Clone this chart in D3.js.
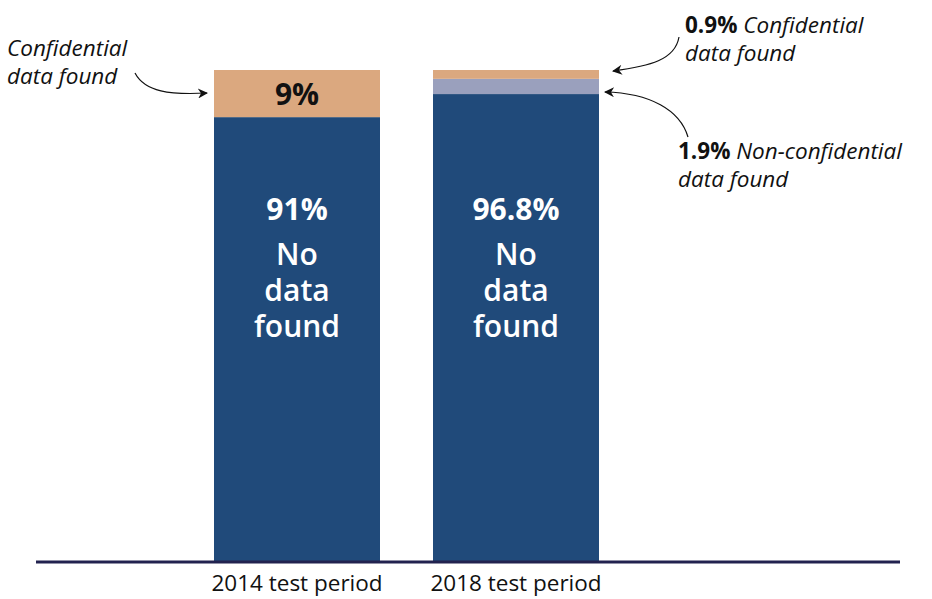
<!doctype html>
<html>
<head>
<meta charset="utf-8">
<style>
  body { margin: 0; background: #fff; }
  svg { display: block; font-family: "Open Sans", sans-serif; }
</style>
<script src="https://d3js.org/d3.v7.min.js"></script>
</head>
<body>
<svg width="932" height="599"></svg>
<script>
// categories and segment shares (bottom to top)
var periods = ["2014 test period", "2018 test period"];
var noData = [90.4, 95.1];
var nonConf = [0, 3.1];
var conf = [9.6, 1.8];

// label text
var noDataLabels = ["91%", "96.8%"];
var confLabel2014 = "9%";

var colors = { noData: "#204a7a", nonConf: "#9aa0bd", conf: "#dba87f" };

var svg = d3.select("svg");

var x = d3.scaleBand()
    .domain(periods)
    .range([187.5, 625.5])
    .paddingInner(53 / 219)
    .paddingOuter(26.5 / 219);

var y = d3.scaleLinear().domain([0, 100]).range([561, 70]);

var rows = periods.map(function(p, i) {
  return { period: p, noData: noData[i], nonConf: nonConf[i], conf: conf[i] };
});
var keys = ["noData", "nonConf", "conf"];
var stacked = d3.stack().keys(keys)(rows);

svg.append("g").selectAll("g")
  .data(stacked)
  .join("g")
    .attr("fill", function(d) { return colors[d.key]; })
  .selectAll("rect")
  .data(function(d) { return d; })
  .join("rect")
    .attr("x", function(d) { return x(d.data.period); })
    .attr("y", function(d) { return y(d[1]); })
    .attr("width", x.bandwidth())
    .attr("height", function(d) { return y(d[0]) - y(d[1]); });

// baseline
svg.append("line")
  .attr("x1", 36).attr("x2", 900)
  .attr("y1", 562).attr("y2", 562)
  .attr("stroke", "#22224f")
  .attr("stroke-width", 3);

// category labels
svg.append("g").selectAll("text")
  .data(periods)
  .join("text")
    .attr("x", function(d) { return x(d) + x.bandwidth() / 2; })
    .attr("y", 591)
    .attr("text-anchor", "middle")
    .attr("font-size", 22.5)
    .attr("fill", "#111")
    .text(function(d) { return d; });

// white labels inside blue segments
periods.forEach(function(p, i) {
  var cx = x(p) + x.bandwidth() / 2;
  var g = svg.append("g")
    .attr("text-anchor", "middle")
    .attr("fill", "#fff");
  g.append("text").attr("x", cx).attr("y", 220)
    .attr("font-weight", 700).attr("font-size", 30)
    .text(noDataLabels[i]);
  ["No", "data", "found"].forEach(function(w, j) {
    g.append("text")
      .attr("x", cx)
      .attr("y", 265 + j * 36)
      .attr("font-weight", 600)
      .attr("font-size", 30)
      .text(w);
  });
});

// 9% label
svg.append("text")
  .attr("x", x(periods[0]) + x.bandwidth() / 2)
  .attr("y", (y(100) + y(noData[0])) / 2 + 11)
  .attr("text-anchor", "middle")
  .attr("font-weight", 700)
  .attr("font-size", 30)
  .attr("fill", "#111")
  .text(confLabel2014);

// annotations
svg.append("defs").append("marker")
  .attr("id", "arr")
  .attr("viewBox", "0 0 10 10")
  .attr("refX", 9).attr("refY", 5)
  .attr("markerWidth", 12).attr("markerHeight", 10)
  .attr("markerUnits", "userSpaceOnUse")
  .attr("orient", "auto")
  .append("path")
  .attr("d", "M0,0 L10,5 L0,10 L3,5 Z")
  .attr("fill", "#111");

function arrow(d) {
  svg.append("path")
    .attr("d", d)
    .attr("fill", "none")
    .attr("stroke", "#111")
    .attr("stroke-width", 1.2)
    .attr("marker-end", "url(#arr)");
}
arrow("M135,73 C145,92 170,95 207,93");
arrow("M679,37 C675,60 650,66 613,71");
arrow("M688,137 C680,110 650,93 605,92");

function note(xp, yp, bold, lines) {
  var g = svg.append("g").attr("font-size", 22.5).attr("fill", "#111");
  var t = g.append("text").attr("x", xp).attr("y", yp);
  if (bold) {
    t.append("tspan").attr("font-weight", 700).text(bold + " ");
  }
  t.append("tspan").attr("font-style", "italic").text(lines[0]);
  g.append("text").attr("x", xp).attr("y", yp + 28)
    .attr("font-style", "italic").text(lines[1]);
}
note(7, 56, null, ["Confidential", "data found"]);
note(685, 33, "0.9%", ["Confidential", "data found"]);
note(678, 159, "1.9%", ["Non-confidential", "data found"]);
</script>
</body>
</html>
